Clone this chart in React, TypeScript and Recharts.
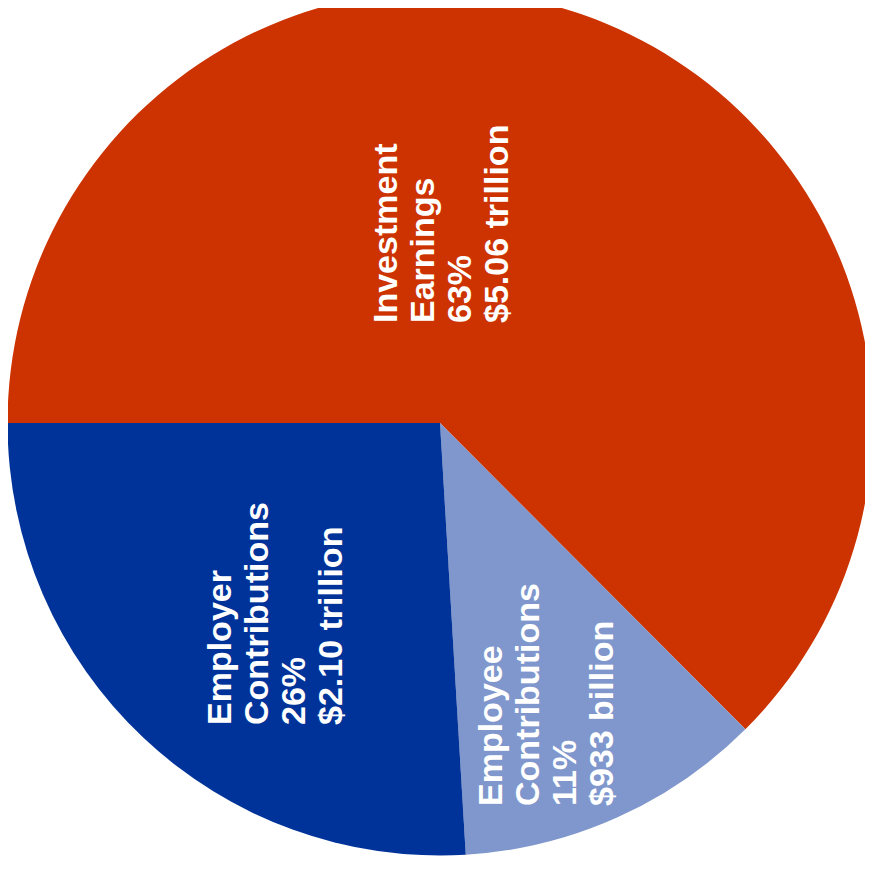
import React from 'react';
import { PieChart, Pie, Cell } from 'recharts';

// Sources of pension fund growth
const names = ['Investment Earnings', 'Employee Contributions', 'Employer Contributions'];
const values = [5.06, 0.933, 2.1]; // trillions of dollars
const pctLabels = ['63%', '11%', '26%'];
const amountLabels = ['$5.06 trillion', '$933 billion', '$2.10 trillion'];
const labelLines = [
  ['Investment', 'Earnings'],
  ['Employee', 'Contributions'],
  ['Employer', 'Contributions'],
];

const data = names.map((name, i) => ({ name, value: values[i] }));

const COLORS = ['#cc3300', '#7f97cc', '#003399'];
// where each rotated label starts (first baseline, bottom of text), relative to the pie centre
const LABEL_OFFSETS = [
  [-43, -100],
  [62, 383],
  [-209, 302],
];
const LINE_H = 37;

const renderLabel = (props: any) => {
  const { cx, cy, index } = props;
  const x = cx + LABEL_OFFSETS[index][0];
  const y = cy + LABEL_OFFSETS[index][1];
  const lines = [...labelLines[index], pctLabels[index], amountLabels[index]];
  return (
    <text
      x={x}
      y={y}
      transform={`rotate(-90, ${x}, ${y})`}
      fill="#ffffff"
      fontFamily="'Liberation Sans', Arial, sans-serif"
      fontWeight="bold"
      fontSize={34}
      textAnchor="start"
    >
      {lines.map((t, i) => (
        <tspan key={i} x={x} dy={i === 0 ? 0 : LINE_H}>
          {t}
        </tspan>
      ))}
    </text>
  );
};

export default function App() {
  return (
    <div style={{ margin: -8, width: 873, height: 876, background: '#ffffff' }}>
      <PieChart width={873} height={876} margin={{ top: 0, right: 0, bottom: 0, left: 0 }}>
        <Pie
          data={data}
          dataKey="value"
          nameKey="name"
          cx={440}
          cy={423}
          outerRadius={432.5}
          startAngle={180}
          endAngle={-180}
          stroke="none"
          label={renderLabel}
          labelLine={false}
          isAnimationActive={false}
        >
          {data.map((d, i) => (
            <Cell key={d.name} fill={COLORS[i]} />
          ))}
        </Pie>
      </PieChart>
    </div>
  );
}
